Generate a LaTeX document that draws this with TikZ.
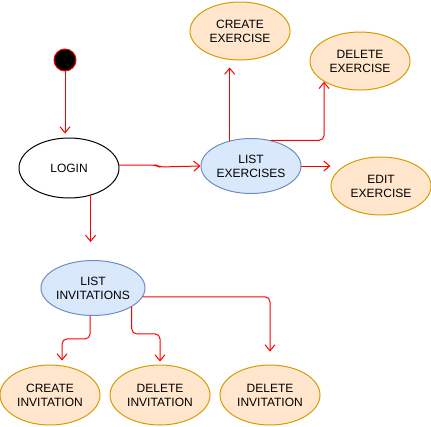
\documentclass[tikz,border=0pt]{standalone}
\usepackage{fontspec}
\setmainfont{Liberation Sans}
\usetikzlibrary{arrows.meta,shapes.geometric}
\definecolor{lnred}{rgb}{1,0,0}
\definecolor{orfill}{HTML}{FFE6CC}
\definecolor{ordraw}{HTML}{D79B00}
\definecolor{blfill}{HTML}{DAE8FC}
\definecolor{bldraw}{HTML}{6C8EBF}

\begin{document}
\begin{tikzpicture}[line cap=round,line join=round,x=1pt,y=-1pt,
	>={Straight Barb[length=6pt,width=10pt]},
	usecase/.style={ellipse,draw,line width=1pt,minimum width=100pt,minimum height=58pt,inner sep=0pt,align=center,font=\fontsize{12}{14}\selectfont},
	leaf/.style={usecase,draw=ordraw,fill=orfill},
	menu/.style={usecase,draw=bldraw,fill=blfill,minimum height=55pt},
	flow/.style={->,draw=lnred,line width=1pt,rounded corners=5pt}]
	\useasboundingbox (0,0) rectangle (431,426);
	\node[circle,draw=lnred,fill=black,line width=1pt,minimum size=22pt,inner sep=0pt] (start) at (65,60) {};
	\node[usecase,minimum height=60pt] (login) at (69,168) {LOGIN};
	\node[menu] (listex) at (251,166) {LIST\\EXERCISES};
	\node[menu] (listinv) at (93,288) {LIST\\INVITATIONS};
	\node[leaf] (createex) at (240,31) {CREATE\\EXERCISE};
	\node[leaf] (deleteex) at (360,61) {DELETE\\EXERCISE};
	\node[leaf] (editex) at (381,186) {EDIT\\EXERCISE};
	\node[leaf,minimum height=60pt] (createinv) at (50,395) {CREATE\\INVITATION};
	\node[leaf,minimum height=60pt] (deleteinv) at (160,395) {DELETE\\INVITATION};
	\node[leaf,minimum height=60pt] (deleteinvb) at (270,395) {DELETE\\INVITATION};
	% connectors
	\draw[flow,shorten >=4pt] (start.south) -- (start.south |- login.north);
	\draw[flow] ([yshift=3pt]login.east) -- ++(36,0) -- ++(4,2) -- (listex.west);
	\draw[flow,shorten >=18pt] (login.-52) -- (login.-52 |- listinv.north);
	\draw[flow,shorten >=7pt] (listex.130) -- (listex.130 |- createex.south);
	\draw[flow] (listex.52) -| (deleteex.210);
	\draw[flow] (listex.east) -- (listex.east -| editex.west);
	\draw[flow,shorten >=4pt] (listinv.264) -- ++(0,23) -| ([xshift=12pt]createinv.north);
	\draw[flow,shorten >=3pt] (listinv.-26) -- ++(0,27) -| (deleteinv.north);
	\draw[flow,shorten >=13pt] (listinv.-10) -| (deleteinvb.north);
\end{tikzpicture}
\end{document}
